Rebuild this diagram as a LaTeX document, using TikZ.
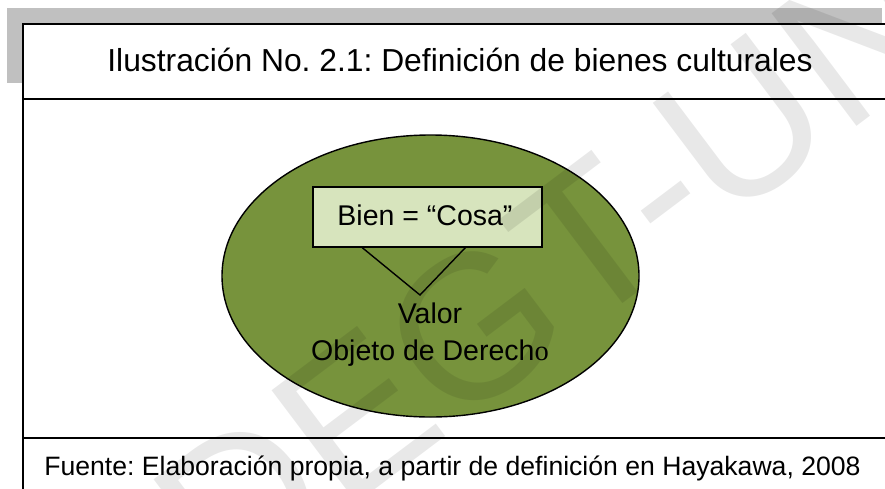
\documentclass[tikz,border=0pt]{standalone}
\usepackage{fontspec}
\setmainfont{Liberation Sans}
\newfontfamily\serifo{Liberation Serif}
\usetikzlibrary{shapes.geometric,calc}
\definecolor{olivefill}{HTML}{77933C}
\definecolor{palegreen}{HTML}{D7E4BD}
\definecolor{shadegray}{HTML}{C0C0C0}
\frenchspacing
\tikzset{
  frameline/.style={draw=black, line width=2pt},
  thinline/.style={draw=black, line width=1.4pt},
  titlefont/.style={font=\fontsize{31.8}{38}\selectfont},
  footfont/.style={font=\fontsize{26.6}{32}\selectfont},
  innerfont/.style={font=\fontsize{28.5}{34}\selectfont},
  wmark/.style={text=black, text opacity=0.09, font=\fontsize{205}{205}\selectfont, inner sep=0}
}
\begin{document}
\begin{tikzpicture}[x=1pt,y=-1pt]
\useasboundingbox (0,0) rectangle (885,488);
\begin{scope}
\clip (0,0) rectangle (885,488);
\fill[shadegray] (7,8) rectangle (882,83);
\draw[frameline, fill=white] (23,24) rectangle (905,505);
\draw[frameline] (23,99) -- (905,99);
\draw[frameline] (23,438) -- (905,438);
\node[titlefont, anchor=base, inner sep=0] (title) at (460,71) {Ilustración No. 2.1: Definición de bienes culturales};
\node[footfont, anchor=base, inner sep=0] (foot) at (452.5,475) {Fuente: Elaboración propia, a partir de definición en Hayakawa, 2008};
\node[ellipse, thinline, fill=olivefill, minimum width=417, minimum height=282, inner sep=0] (ell) at (430.5,276) {};
\node[thinline, fill=palegreen, minimum width=229, minimum height=60, inner sep=0] (bien) at (427.5,217) {};
\node[innerfont, anchor=base, inner sep=0] (bientext) at (425,225) {Bien = “Cosa”};
\coordinate (tip) at (420,295);
\draw[thinline, line join=miter] ($(bien.south west)+(50,0)$) -- (tip) -- ($(bien.south west)+(153,0)$);
\node[innerfont, anchor=base, inner sep=0] (valor) at (430,323) {Valor};
\node[innerfont, anchor=base, inner sep=0] (objeto) at (430,360) {Objeto de Derech{\serifo o}};
\node[wmark, rotate=37] (wm) at (665,183) {DEGT-UNAH};
\end{scope}
\end{tikzpicture}
\end{document}
